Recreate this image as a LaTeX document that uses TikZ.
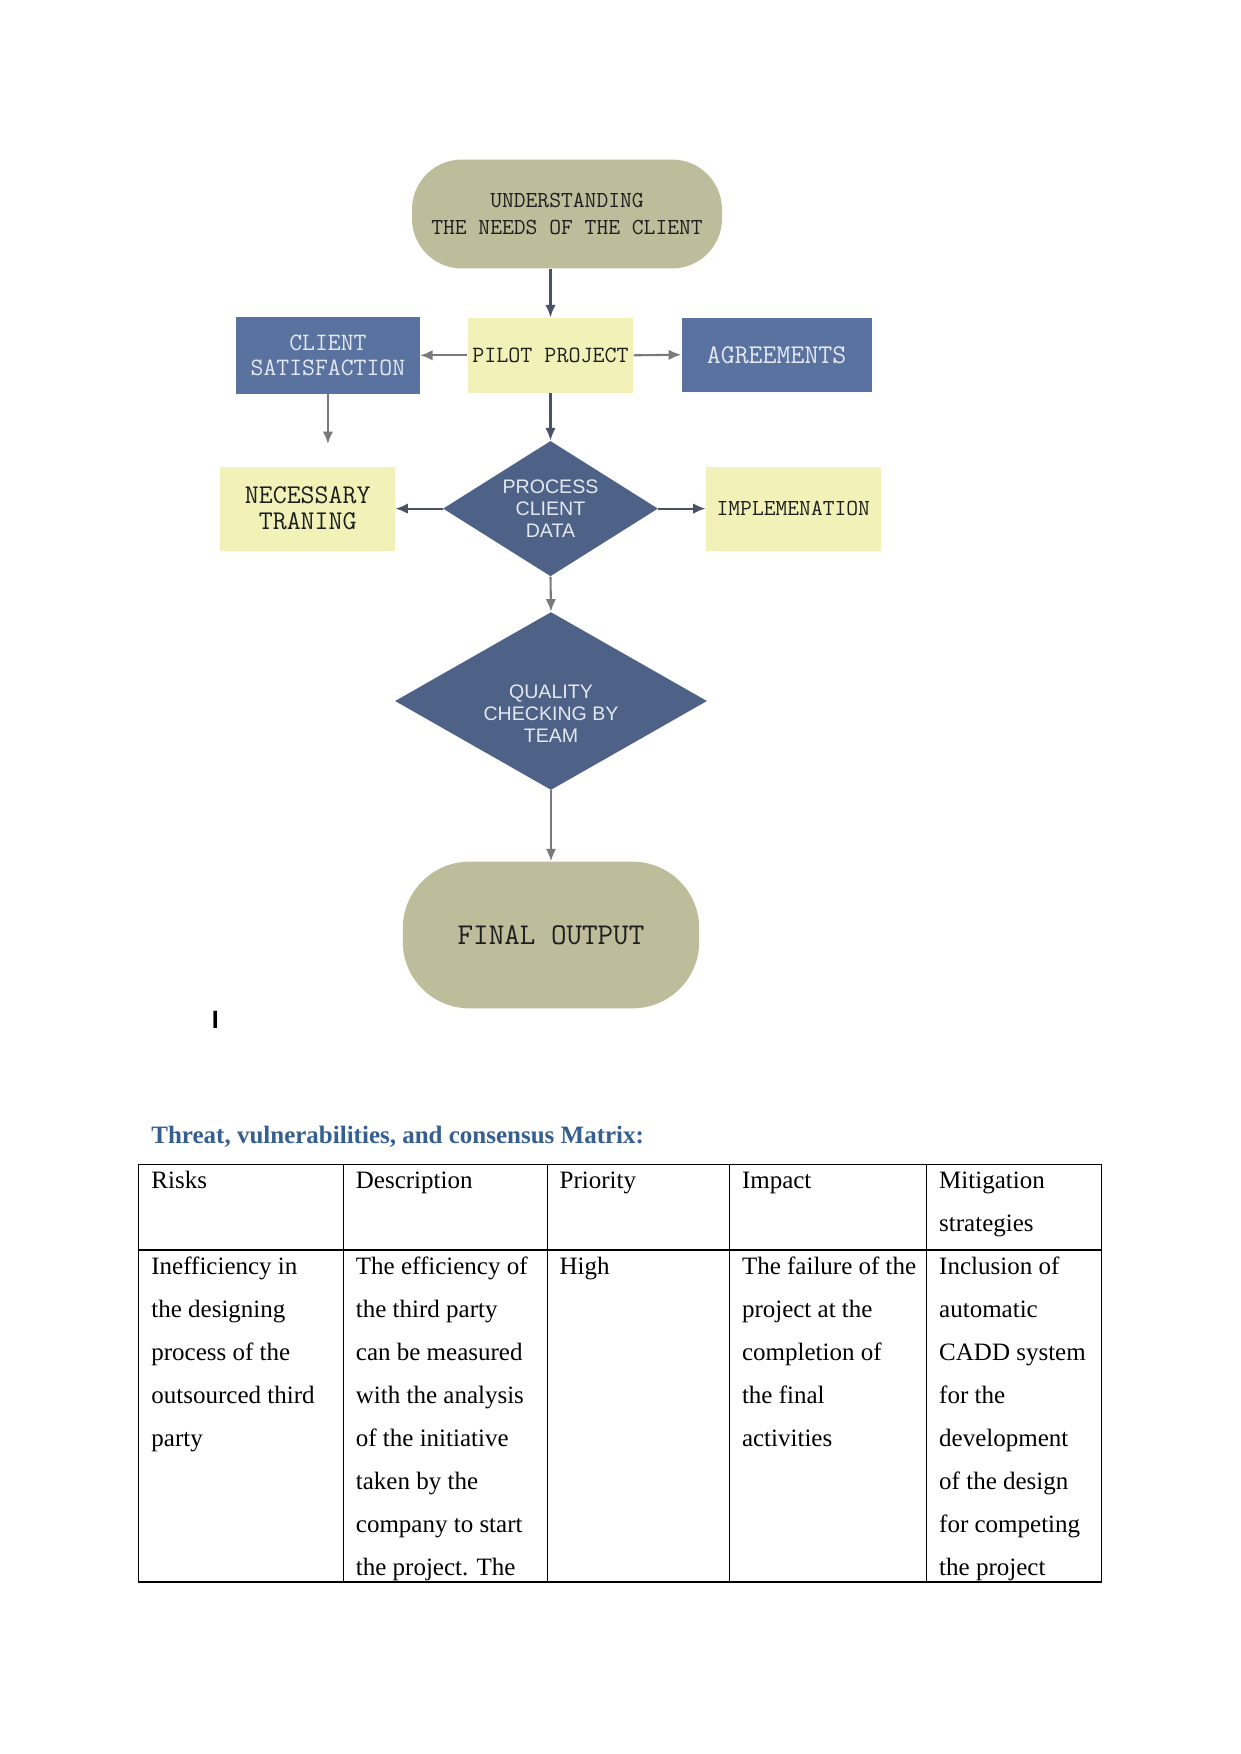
\documentclass[tikz,border=0pt]{standalone}
\usepackage{fontspec}
\setmainfont{Liberation Serif}
\newfontfamily\diafont{Liberation Sans}
\usetikzlibrary{shapes.geometric}
\usetikzlibrary{arrows.meta}

\definecolor{termfill}{HTML}{BDBC9B}
\definecolor{bluefill}{HTML}{5A72A0}
\definecolor{diafill}{HTML}{4E6187}
\definecolor{yelfill}{HTML}{F2F2B8}
\definecolor{boxtext}{HTML}{E4E8F0}
\definecolor{flowtext}{HTML}{1E1E1E}
\definecolor{arrgray}{HTML}{7A7A7A}
\definecolor{arrdark}{HTML}{4A5268}
\definecolor{headblue}{HTML}{365F91}

\tikzset{
  terminal/.style={fill=termfill, text=flowtext, inner sep=0pt, align=center},
  bluebox/.style={fill=bluefill, text=boxtext, inner sep=0pt, align=center},
  yelbox/.style={fill=yelfill, text=flowtext, inner sep=0pt, align=center},
  decision/.style={diamond, fill=diafill, text=boxtext, inner sep=0pt, align=center,
                   font=\diafont\fontsize{9.4}{10.5}\selectfont},
  flowarrow/.style={draw=arrgray, line width=1pt, -{Latex[length=6pt,width=5pt]}},
  flowdark/.style={flowarrow, draw=arrdark},
  tabline/.style={line width=0.6pt, black},
  cell/.style={anchor=base west, inner sep=0pt, font=\fontsize{12}{14}\selectfont}
}

\begin{document}
\begin{tikzpicture}[x=0.48pt,y=-0.48pt]

\path[use as bounding box, fill=white] (0,0) rectangle (1241,1754);

% flow chart
\node[terminal, minimum width=148.8pt, minimum height=52.3pt, rounded corners=24pt,
      font=\ttfamily\fontsize{11}{13}\selectfont] (needs) at (567,214)
      {UNDERSTANDING\\THE NEEDS OF THE CLIENT};
\node[yelbox, minimum width=79.5pt, minimum height=36pt,
      font=\ttfamily\fontsize{11.2}{13}\selectfont] (pilot) at (550.5,355.3) {PILOT PROJECT};
\node[bluebox, minimum width=88.1pt, minimum height=37pt,
      font=\ttfamily\fontsize{12}{11.8}\selectfont] (satis) at (327.9,355.3) {CLIENT\\SATISFACTION};
\node[bluebox, minimum width=91.2pt, minimum height=35.5pt,
      font=\ttfamily\fontsize{13}{14}\selectfont] (agree) at (776.6,354.7) {AGREEMENTS};
\node[decision, minimum width=103.2pt, minimum height=65pt, aspect=1.6] (proc) at (550.5,508.6)
      {PROCESS\\CLIENT\\DATA};
\node[yelbox, minimum width=83.8pt, minimum height=40.3pt,
      font=\ttfamily\fontsize{13}{12.4}\selectfont] (train) at (307.7,508.6) {NECESSARY\\TRANING};
\node[yelbox, minimum width=83.8pt, minimum height=40.3pt,
      font=\ttfamily\fontsize{11}{13}\selectfont] (impl) at (793.3,508.6) {IMPLEMENATION};
\node[decision, minimum width=149.8pt, minimum height=85.4pt, aspect=1.75] (qual) at (551,701) {};
\node[align=center, inner sep=0pt, text=boxtext, font=\diafont\fontsize{9.4}{10.5}\selectfont]
      (qualtext) at ([yshift=-6.2pt]qual.center) {QUALITY\\CHECKING BY\\TEAM};
\node[terminal, minimum width=142.3pt, minimum height=70.4pt, rounded corners=32pt,
      font=\ttfamily\fontsize{14.5}{16}\selectfont] (final) at (551,935) {FINAL OUTPUT};
\coordinate (satisend) at (327.9,444);

\draw[flowdark] (needs.south -| pilot.north) -- (pilot.north);
\draw[flowarrow] (pilot.west) -- (satis.east);
\draw[flowarrow] (pilot.east) -- (agree.west);
\draw[flowarrow] (satis.south) -- (satisend);
\draw[flowdark] (pilot.south) -- (proc.north);
\draw[flowdark] (proc.west) -- (train.east);
\draw[flowdark] (proc.east) -- (impl.west);
\draw[flowarrow] (proc.south) -- (qual.north);
\draw[flowarrow] (qual.south) -- (final.north);

\node[anchor=base west, inner sep=0pt, font=\diafont\bfseries\fontsize{12}{14}\selectfont] (mark) at (211.5,1028) {I};

% matrix
\node[anchor=base west, inner sep=0pt, text=headblue, font=\bfseries\fontsize{12}{14}\selectfont] (title)
      at (151,1143) {Threat, vulnerabilities, and consensus Matrix:};

\draw[tabline] (138.3,1164.5) rectangle (1101.5,1582);
\draw[tabline] (138.3,1250) -- (1101.5,1250);
\draw[line width=1pt] (138.3,1582) -- (1101.5,1582);
\draw[tabline] (343.5,1164.5) -- (343.5,1582);
\draw[tabline] (547.2,1164.5) -- (547.2,1582);
\draw[tabline] (729.6,1164.5) -- (729.6,1582);
\draw[tabline] (926.8,1164.5) -- (926.8,1582);

\node[cell] (hrisk) at (151,1188) {Risks};
\node[cell] (hdesc) at (355.5,1188) {Description};
\node[cell] (hprio) at (559.2,1188) {Priority};
\node[cell] (himp) at (741.6,1188) {Impact};
\node[cell] (hmit) at (938.8,1188) {Mitigation};
\node[cell] (hmit2) at (938.8,1231) {strategies};

\foreach \t [count=\i from 0] in {Inefficiency in, the designing, process of the, outsourced third, party}
  \node[cell] (risk\i) at (151,1274+43*\i) {\t};
\foreach \t [count=\i from 0] in {The efficiency of, the third party, can be measured, with the analysis,
    of the initiative, taken by the, company to start, the project. The}
  \node[cell] (desc\i) at (355.5,1274+43*\i) {\t};
\node[cell] (prio0) at (559.2,1274) {High};
\foreach \t [count=\i from 0] in {The failure of the, project at the, completion of, the final, activities}
  \node[cell] (imp\i) at (741.6,1274+43*\i) {\t};
\foreach \t [count=\i from 0] in {Inclusion of, automatic, CADD system, for the, development,
    of the design, for competing, the project}
  \node[cell] (mit\i) at (938.8,1274+43*\i) {\t};

\end{tikzpicture}
\end{document}
